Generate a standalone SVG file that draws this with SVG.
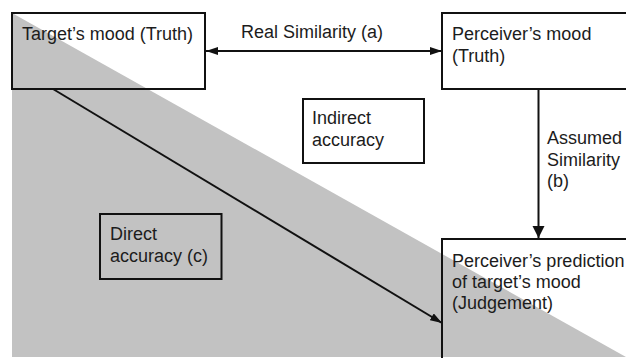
<svg xmlns="http://www.w3.org/2000/svg" width="626" height="358" viewBox="0 0 626 358">
<style>
text{font-family:"Liberation Sans",Arial,sans-serif;font-size:18px;fill:#1c1c1c}
.box{fill:none;stroke:#111;stroke-width:2}
.con{fill:none;stroke:#111;stroke-width:2}
</style>
<defs>
<marker id="ah" viewBox="0 0 12 8" refX="12" refY="4" markerWidth="12" markerHeight="8" markerUnits="userSpaceOnUse" orient="auto-start-reverse">
<path d="M0,0 L12,4 L0,8 Z" fill="#111"/>
</marker>
</defs>
<rect width="626" height="358" fill="#fff"/>
<polygon points="12,13 12,357 626,357" fill="#c2c2c2"/>
<g id="connectors">
<line class="con" x1="206" y1="51" x2="442" y2="51" marker-start="url(#ah)" marker-end="url(#ah)"/>
<line class="con" x1="538.5" y1="89" x2="538.5" y2="238"/>
<path d="M532.5,226 L538.5,238 L544.5,226 Z" fill="#111"/>
<line class="con" x1="53" y1="89" x2="442" y2="323" marker-end="url(#ah)"/>
<text x="241" y="37.5">Real Similarity (a)</text>
<text x="547" y="144">Assumed</text>
<text x="547" y="165.5">Similarity</text>
<text x="547" y="187">(b)</text>
</g>
<g id="target">
<rect class="box" x="12" y="13" width="193" height="76"/>
<text x="22" y="39.5">Target’s mood (Truth)</text>
</g>
<g id="perceiver">
<rect class="box" x="442" y="13" width="200" height="76"/>
<text x="452" y="39.5">Perceiver’s mood</text>
<text x="452" y="61.5">(Truth)</text>
</g>
<g id="indirect">
<rect class="box" x="303" y="99" width="121" height="64"/>
<text x="312" y="124">Indirect</text>
<text x="312" y="146">accuracy</text>
</g>
<g id="direct">
<rect class="box" x="100" y="214" width="121.5" height="65"/>
<text x="110" y="240">Direct</text>
<text x="110" y="262">accuracy (c)</text>
</g>
<g id="judgement">
<rect class="box" x="442" y="239" width="200" height="130"/>
<text x="452" y="267">Perceiver’s prediction</text>
<text x="452" y="288">of target’s mood</text>
<text x="452" y="309">(Judgement)</text>
</g>
</svg>
